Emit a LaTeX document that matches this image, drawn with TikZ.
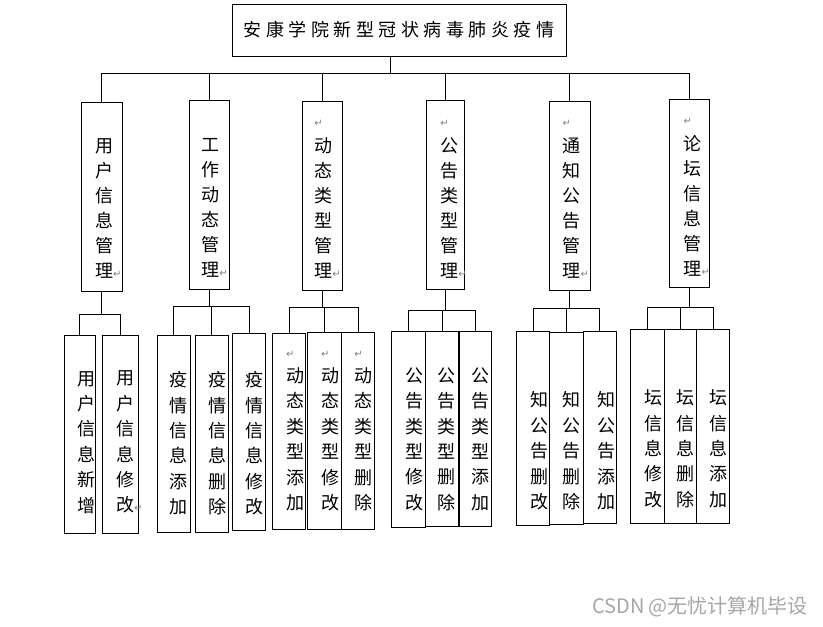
\documentclass[tikz,border=0pt]{standalone}
\usepackage{fontspec}
\usepackage{xcolor}
\setmainfont{Noto Sans CJK SC}
\newfontfamily\titlefamily[LetterSpace=25]{Noto Sans CJK SC}
\newfontfamily\symfamily{DejaVu Sans}
\definecolor{markgray}{HTML}{808080}
\definecolor{wmgray}{HTML}{A6A6A6}
\newcommand{\retmark}{{\symfamily\fontsize{10}{10}\selectfont\textcolor{markgray}{↵}}}
\newcommand{\retabove}[1]{\smash{\rlap{\raisebox{#1}{\retmark}}}}

\tikzset{
  box/.style={draw, line width=1pt, inner sep=0pt},
  mainbox/.style={box, minimum width=40pt, minimum height=189pt},
  subbox/.style={box, minimum width=33pt, minimum height=196pt},
  maintext/.style={align=center, inner sep=0pt, font=\fontsize{18}{25}\selectfont},
  subtext/.style={align=center, inner sep=0pt, font=\fontsize{18}{25.4}\selectfont},
  link/.style={line width=1pt}
}

\begin{document}
\begin{tikzpicture}[x=1pt, y=-1pt]
  \useasboundingbox (0,0) rectangle (823,627);

  % root
  \node[box, minimum width=334pt, minimum height=52pt,
        font=\titlefamily\fontsize{18}{22}\selectfont] (top) at (399,30)
        {安康学院新型冠状病毒肺炎疫情};

  % modules
  \node[mainbox, minimum width=41pt] (m1) at (101.8,196.7) {};
  \node[mainbox] (m2) at (209.3,194.8) {};
  \node[mainbox] (m3) at (322,195.8) {};
  \node[mainbox, minimum width=38pt] (m4) at (445.5,195.3) {};
  \node[mainbox, minimum width=41pt] (m5) at (569.8,195.8) {};
  \node[mainbox, minimum height=188pt] (m6) at (689.3,193.3) {};

  \node[maintext] (m1t) at (104,208) {用\\户\\信\\息\\管\\理\rlap{\retmark}};
  \node[maintext] (m2t) at (210.3,208) {工\\作\\动\\态\\管\\理\rlap{\retmark}};
  \node[maintext] (m3t) at (323.3,208) {\retabove{26pt}动\\态\\类\\型\\管\\理\rlap{\retmark}};
  \node[maintext] (m4t) at (449.3,208) {\retabove{26pt}公\\告\\类\\型\\管\\理\rlap{\retmark}};
  \node[maintext] (m5t) at (571.7,208) {\retabove{26pt}通\\知\\公\\告\\管\\理\rlap{\retmark}};
  \node[maintext] (m6t) at (692.7,206) {\retabove{26pt}论\\坛\\信\\息\\管\\理\rlap{\retmark}};

  % functions
  \node[subbox, minimum width=31pt, minimum height=198pt] (c11) at (79.8,434.3) {};
  \node[subbox, minimum width=36pt, minimum height=198pt] (c12) at (120.3,434.3) {};
  \node[subbox, minimum height=197pt] (c21) at (173.8,433.8) {};
  \node[subbox, minimum height=197pt] (c22) at (211.7,433.8) {};
  \node[subbox, minimum height=197pt] (c23) at (249,432) {};
  \node[subbox] (c31) at (289.2,431.3) {};
  \node[subbox, minimum width=34pt, minimum height=197pt] (c32) at (324.3,430.8) {};
  \node[subbox, minimum height=197pt] (c33) at (358,430.8) {};
  \node[subbox, minimum width=34pt] (c41) at (408.3,429.7) {};
  \node[subbox, minimum height=195pt] (c42) at (442.2,429.2) {};
  \node[subbox, minimum width=32.3pt, minimum height=195pt] (c43) at (475.2,429.2) {};
  \node[subbox, minimum width=32.6pt, minimum height=194pt] (c51) at (533,428.7) {};
  \node[subbox, minimum width=34pt, minimum height=192pt] (c52) at (566.3,428.3) {};
  \node[subbox, minimum height=191.6pt] (c53) at (599.8,427.5) {};
  \node[subbox, minimum width=34pt, minimum height=193.6pt] (c61) at (647.3,426.5) {};
  \node[subbox, minimum width=32.4pt, minimum height=193.6pt] (c62) at (680.5,426.5) {};
  \node[subbox, minimum width=32.6pt, minimum height=193.6pt] (c63) at (713,426.5) {};

  \node[subtext] (c11t) at (86.7,442.3) {用\\户\\信\\息\\新\\增};
  \node[subtext] (c12t) at (125,442.3) {用\\户\\信\\息\\修\\改\rlap{\retmark}};
  \node[subtext] (c21t) at (178.3,443.3) {疫\\情\\信\\息\\添\\加};
  \node[subtext] (c22t) at (217,443.3) {疫\\情\\信\\息\\删\\除};
  \node[subtext] (c23t) at (254,443.3) {疫\\情\\信\\息\\修\\改};
  \node[subtext] (c31t) at (295,439.3) {\retabove{25pt}动\\态\\类\\型\\添\\加};
  \node[subtext] (c32t) at (330,439.3) {\retabove{25pt}动\\态\\类\\型\\修\\改};
  \node[subtext] (c33t) at (363.3,439.3) {\retabove{25pt}动\\态\\类\\型\\删\\除};
  \node[subtext] (c41t) at (414.3,439.2) {公\\告\\类\\型\\修\\改};
  \node[subtext] (c42t) at (446.7,439.2) {公\\告\\类\\型\\删\\除};
  \node[subtext] (c43t) at (480,439.2) {公\\告\\类\\型\\添\\加};
  \node[subtext] (c51t) at (539.3,450.8) {知\\公\\告\\删\\改};
  \node[subtext] (c52t) at (571.7,450.8) {知\\公\\告\\删\\除};
  \node[subtext] (c53t) at (606,450.8) {知\\公\\告\\添\\加};
  \node[subtext] (c61t) at (653.3,448.7) {坛\\信\\息\\修\\改};
  \node[subtext] (c62t) at (685,448.7) {坛\\信\\息\\删\\除};
  \node[subtext] (c63t) at (718.3,448.7) {坛\\信\\息\\添\\加};

  % tree lines
  \coordinate (bus) at (0,73);
  \draw[link] ([xshift=-9pt]top.south) -- ([xshift=-9pt]top.south |- bus);
  \draw[link] (m1.north |- bus) -- (m6.north |- bus);
  \foreach \i in {1,...,6}
    \draw[link] (m\i.north |- bus) -- (m\i.north);

  \foreach \g/\y/\last in {1/314/2, 2/306/3, 3/307/3, 4/310/3, 5/308/3, 6/307/3} {
    \coordinate (g\g) at (0,\y);
    \draw[link] (m\g.south) -- (m\g.south |- g\g);
    \draw[link] (c\g1.north |- g\g) -- (c\g\last.north |- g\g);
    \foreach \j in {1,...,\last}
      \draw[link] (c\g\j.north |- g\g) -- (c\g\j.north);
  }

  % watermark
  \node[text=wmgray, font=\fontsize{20}{20}\selectfont, inner sep=0pt] (wm) at (700,606.7)
    {CSDN @无忧计算机毕设};
\end{tikzpicture}
\end{document}
